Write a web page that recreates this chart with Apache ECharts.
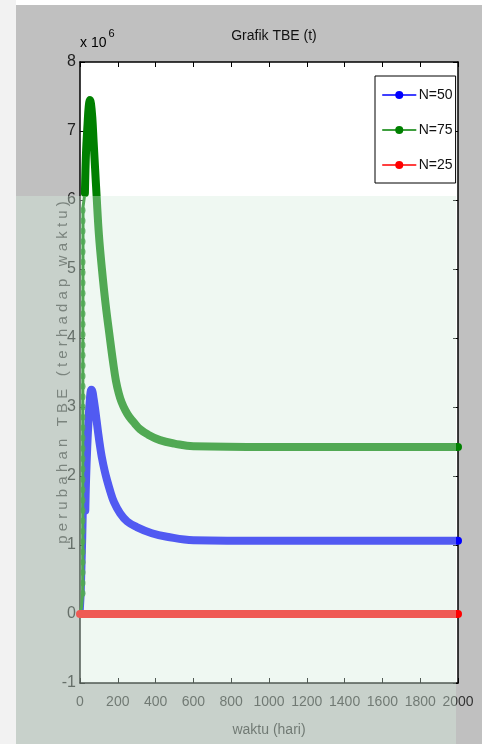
<!DOCTYPE html>
<html>
<head>
<meta charset="utf-8">
<script src="https://cdn.jsdelivr.net/npm/echarts@6/dist/echarts.min.js"></script>
<style>
  html, body { margin: 0; padding: 0; background: #c0c0c0; }
  #chart { width: 482px; height: 744px; }
</style>
</head>
<body>
<div id="chart"></div>
<script>
// waktu (hari) and TBE values, in units of 10^6
// N=50: steep start (thin) then the thick curve
const tBlueRise = [0, 12, 17, 21, 25, 28]
const blueRise = [0, 0.05, 0.3, 0.7, 1.1, 1.5]
const tBlue = [28, 32, 38, 45, 52, 60, 66, 72, 80, 88, 95, 105, 115, 130, 143, 160, 180, 212, 250, 300, 380, 460, 600, 1000, 1500, 2000]
const blueN50 = [1.5, 1.94, 2.4, 2.8, 3.1, 3.25, 3.22, 3.12, 2.97, 2.8, 2.65, 2.45, 2.28, 2.08, 1.94, 1.78, 1.62, 1.46, 1.34, 1.26, 1.17, 1.12, 1.07, 1.06, 1.06, 1.06]

// N=75: thin start, dotted jump, then the thick curve
const tGreenRise = [0, 8, 14, 16, 16, 26]
const greenRise = [0, 0.1, 0.3, 0.3, 5.9, 6.1]
const greenRiseDots = [0.3, 0.45, 0.6, 0.75, 0.9, 1.05, 1.2, 1.35, 1.5, 1.65, 1.8, 1.95, 2.1, 2.25, 2.4, 2.55, 2.7, 2.85, 3.0, 3.15, 3.3, 3.45, 3.6, 3.75, 3.9, 4.05, 4.2, 4.35, 4.5, 4.65, 4.8, 4.95, 5.1, 5.25, 5.4, 5.55, 5.7, 5.85]
const greenRiseT = 16
const tGreen = [26, 32, 40, 46, 53, 58, 65, 72, 80, 88, 100, 116, 135, 158, 175, 190, 205, 220, 240, 260, 290, 317, 360, 423, 500, 600, 1000, 1500, 2000]
const greenN75 = [6.1, 6.7, 7.1, 7.35, 7.45, 7.4, 7.2, 6.85, 6.45, 6.05, 5.5, 5.0, 4.5, 4.0, 3.65, 3.38, 3.2, 3.07, 2.95, 2.86, 2.76, 2.68, 2.6, 2.52, 2.47, 2.43, 2.42, 2.42, 2.42]

const tRed = [0, 1000, 2000]
const redN25 = [0, 0, 0]

const xTicks = [0, 200, 400, 600, 800, 1000, 1200, 1400, 1600, 1800, 2000]
const yTicks = [-1, 0, 1, 2, 3, 4, 5, 6, 7, 8]

const pairs = (ts, vs) => ts.map((t, i) => [t, vs[i]])

const font = "'Liberation Sans Narrow', 'Liberation Sans', Arial, sans-serif"
const chart = echarts.init(document.getElementById('chart'), null, { renderer: 'canvas' })

const axisCommon = {
  axisLine: { show: true, onZero: false, lineStyle: { color: '#000', width: 1.5 } },
  axisTick: { show: true, inside: true, length: 5, lineStyle: { color: '#000' } },
  splitLine: { show: false }
}

const thick = (name, data, color, z) => ({
  name, type: 'line', data, color, z,
  symbol: 'circle', symbolSize: 6, showSymbol: false,
  smooth: 0.4,
  lineStyle: { width: 8, color, cap: 'round', join: 'round' }
})
const thin = (name, data, color, z) => ({
  name, type: 'line', data, color, z,
  showSymbol: false, symbol: 'none',
  lineStyle: { width: 3, color }
})

chart.setOption({
  backgroundColor: '#c0c0c0',
  animation: false,
  textStyle: { fontFamily: font },
  title: {
    text: 'Grafik TBE (t)',
    left: 269, top: 24, textAlign: 'center',
    textStyle: { fontFamily: font, fontSize: 14, fontWeight: 'normal', color: '#111' }
  },
  grid: { left: 80, right: 24, top: 62, bottom: 61, show: true, backgroundColor: '#fff', borderWidth: 0 },
  legend: {
    orient: 'vertical',
    left: 375, top: 76,
    padding: [12, 3, 11, 7],
    itemGap: 21,
    itemWidth: 33, itemHeight: 10,
    backgroundColor: '#fff',
    borderColor: '#000', borderWidth: 1, borderRadius: 0,
    data: ['N=50', 'N=75', 'N=25'],
    lineStyle: { width: 1.5 },
    textStyle: { fontFamily: font, fontSize: 14, color: '#111', padding: [0, 0, 0, -2] }
  },
  xAxis: [{
    type: 'value', min: 0, max: 2000, interval: 200,
    ...axisCommon,
    axisLabel: { fontSize: 14, color: '#333', margin: 12, fontFamily: font,
      customValues: xTicks, formatter: v => String(v) },
    name: 'waktu (hari)', nameLocation: 'middle', nameGap: 40,
    nameTextStyle: { fontSize: 14, color: '#333', fontFamily: font }
  }, {
    type: 'value', min: 0, max: 2000, interval: 200, position: 'top',
    ...axisCommon, axisLabel: { show: false }
  }],
  yAxis: [{
    type: 'value', min: -1, max: 8, interval: 1,
    ...axisCommon,
    axisLabel: { fontSize: 16, color: '#222', margin: 4, fontFamily: font,
      customValues: yTicks, formatter: v => String(v) },
    name: 'p e r u b a h a n   T B E   ( t e r h a d a p   w a k t u )',
    nameLocation: 'middle', nameGap: 17, nameRotate: 90, nameMoveOverlap: false,
    nameTextStyle: { fontSize: 15, color: '#444', fontFamily: font, verticalAlign: 'middle' }
  }, {
    type: 'value', min: -1, max: 8, interval: 1, position: 'right',
    ...axisCommon, axisLabel: { show: false }
  }],
  graphic: [
    { type: 'rect', shape: { x: 0, y: 0, width: 16, height: 744 }, style: { fill: '#f2f2f2' }, z: -10, silent: true },
    { type: 'rect', shape: { x: 16, y: 0, width: 466, height: 5 }, style: { fill: '#ffffff' }, z: -10, silent: true },
    {
      type: 'text', left: 80, top: 28, silent: true,
      style: {
        text: '{a|x 10}{s|6}',
        rich: {
          a: { fontFamily: font, fontSize: 14, color: '#111', verticalAlign: 'bottom', lineHeight: 22 },
          s: { fontFamily: font, fontSize: 11, color: '#111', verticalAlign: 'top', lineHeight: 22, padding: [0, 0, 0, 2] }
        }
      }
    },
    // pale watermark tint over the lower part of the picture
    { type: 'rect', shape: { x: 16, y: 196, width: 440, height: 548 }, style: { fill: 'rgba(214,236,222,0.38)' }, z: 100, silent: true }
  ],
  series: [
    thin('N=50 awal', pairs(tBlueRise, blueRise), '#0000ff', 3),
    thick('N=50', pairs(tBlue, blueN50), '#0000ff', 3),
    thin('N=75 awal', pairs(tGreenRise, greenRise), '#008000', 4),
    {
      name: 'N=75 titik', type: 'scatter', data: greenRiseDots.map(v => [greenRiseT, v]),
      color: '#008000', symbol: 'circle', symbolSize: [5, 7], z: 4
    },
    thick('N=75', pairs(tGreen, greenN75), '#008000', 4),
    thick('N=25', pairs(tRed, redN25), '#ff0000', 5)
  ]
})
</script>
</body>
</html>
